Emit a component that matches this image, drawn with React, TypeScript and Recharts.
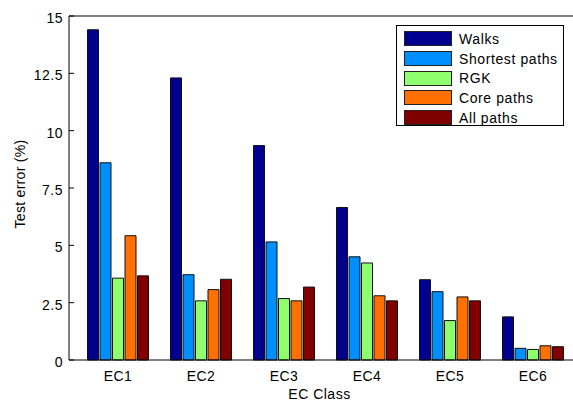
import { Bar, BarChart, Legend, XAxis, YAxis } from "recharts";

const categories = ["EC1", "EC2", "EC3", "EC4", "EC5", "EC6"];
const walks = [14.4, 12.3, 9.35, 6.65, 3.5, 1.88];
const shortestPaths = [8.6, 3.72, 5.15, 4.5, 2.98, 0.51];
const rgk = [3.57, 2.58, 2.68, 4.23, 1.72, 0.46];
const corePaths = [5.42, 3.07, 2.58, 2.8, 2.75, 0.62];
const allPaths = [3.67, 3.52, 3.18, 2.58, 2.58, 0.58];
const yTicks = [0, 2.5, 5, 7.5, 10, 12.5, 15];

const series = [
  { key: "walks", name: "Walks", color: "#00008f", values: walks },
  { key: "shortest", name: "Shortest paths", color: "#008fff", values: shortestPaths },
  { key: "rgk", name: "RGK", color: "#8fff70", values: rgk },
  { key: "core", name: "Core paths", color: "#ff7000", values: corePaths },
  { key: "all", name: "All paths", color: "#800000", values: allPaths },
];

const data = categories.map((cat, i) => {
  const row: Record<string, string | number> = { cat };
  series.forEach((s) => {
    row[s.key] = s.values[i];
  });
  return row;
});

const font = '"Liberation Sans", Arial, sans-serif';
const tickStyle = { fontSize: 14, fill: "#000", fontFamily: font, letterSpacing: 0.5 };

function LegendBox({ payload }: { payload?: any[] }) {
  const order = series.map((s) => s.name);
  const items = [...(payload ?? [])].sort(
    (a, b) => order.indexOf(a.value) - order.indexOf(b.value),
  );
  return (
    <div
      style={{
        border: "1px solid #000",
        background: "#fff",
        width: 168,
        height: 101,
        boxSizing: "border-box",
        padding: "3px 0 0 7px",
        fontFamily: font,
        fontSize: 14,
        letterSpacing: 0.6,
        color: "#000",
      }}
    >
      {items.map((entry) => (
        <div
          key={entry.value}
          style={{ display: "flex", alignItems: "center", height: 19.7 }}
        >
          <span
            style={{
              width: 48,
              height: 15,
              boxSizing: "border-box",
              border: "1px solid #222",
              background: entry.color,
              marginRight: 7,
            }}
          />
          <span style={{ lineHeight: "16px" }}>{entry.value}</span>
        </div>
      ))}
    </div>
  );
}

export default function App() {
  return (
    <div style={{ width: 573, height: 401, overflow: "hidden", background: "#fff" }}>
      <style>{"body{margin:0;overflow:hidden}"}</style>
      <BarChart
        width={600}
        height={401}
        data={data}
        margin={{ top: 15, right: 17, bottom: 0, left: 9 }}
        barSize={11}
        barGap={1.5}
      >
        <XAxis
          dataKey="cat"
          height={41}
          padding={{ left: 7.5, right: 7.5 }}
          axisLine={{ stroke: "#000" }}
          tickLine={false}
          tickSize={0}
          tickMargin={11}
          tick={tickStyle}
          label={({ viewBox }: any) => (
            <text
              x={viewBox.x + viewBox.width / 2 - 6}
              y={399}
              textAnchor="middle"
              fontSize={14}
              letterSpacing={0.5}
              fontFamily={font}
              fill="#000"
            >
              EC Class
            </text>
          )}
        />
        <XAxis
          xAxisId="top"
          dataKey="cat"
          orientation="top"
          height={1}
          padding={{ left: 7.5, right: 7.5 }}
          axisLine={{ stroke: "#000" }}
          tickLine={{ stroke: "#000" }}
          tickSize={-5}
          tick={false}
        />
        <YAxis
          domain={[0, 15]}
          ticks={yTicks}
          width={60}
          axisLine={{ stroke: "#000" }}
          tickLine={{ stroke: "#000" }}
          tickSize={-5}
          tickMargin={11}
          tick={{ ...tickStyle, dy: 2 }}
          tickFormatter={(v) => String(v)}
          label={({ viewBox }: any) => (
            <text
              x={viewBox.x + 11}
              y={viewBox.y + viewBox.height / 2 - 4}
              transform={`rotate(-90, ${viewBox.x + 11}, ${viewBox.y + viewBox.height / 2 - 4})`}
              textAnchor="middle"
              dominantBaseline="central"
              fontSize={14}
              letterSpacing={0.3}
              fontFamily={font}
              fill="#000"
            >
              Test error (%)
            </text>
          )}
        />
        <YAxis
          yAxisId="right"
          orientation="right"
          domain={[0, 15]}
          ticks={yTicks}
          width={1}
          axisLine={{ stroke: "#000" }}
          tickLine={{ stroke: "#000" }}
          tickSize={-15}
          tick={false}
        />
        <Legend
          layout="vertical"
          align="center"
          verticalAlign="middle"
          content={(props: any) => <LegendBox payload={props.payload} />}
          wrapperStyle={{ left: 396, top: 25, width: 170, height: 103 }}
        />
        {series.map((s) => (
          <Bar
            key={s.key}
            dataKey={s.key}
            name={s.name}
            fill={s.color}
            stroke="#111"
            strokeWidth={1}
            isAnimationActive={false}
          />
        ))}
      </BarChart>
    </div>
  );
}
